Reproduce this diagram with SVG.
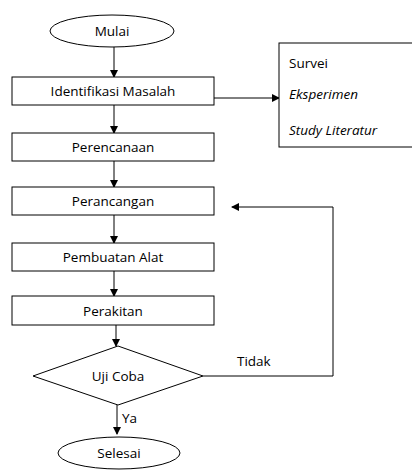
<svg xmlns="http://www.w3.org/2000/svg" width="412" height="472" viewBox="0 0 412 472">
<style>
.s{fill:#fff;stroke:#000;stroke-width:1}
.t{font-family:"Open Sans","Liberation Sans",sans-serif;font-size:13.5px;fill:#000}
.c{text-anchor:middle}
.i{font-style:italic}
.l{fill:none;stroke:#000;stroke-width:1}
</style>
<defs>
<marker id="a" markerWidth="8" markerHeight="8" refX="7" refY="4" orient="auto" markerUnits="userSpaceOnUse">
<path d="M0,0 L8,4 L0,8 Z" fill="#000"/>
</marker>
</defs>
<rect width="412" height="472" fill="#fff"/>
<g id="connectors">
<line class="l" x1="114" y1="47" x2="114" y2="77" marker-end="url(#a)"/>
<line class="l" x1="114" y1="105" x2="114" y2="133" marker-end="url(#a)"/>
<line class="l" x1="114" y1="161" x2="114" y2="187" marker-end="url(#a)"/>
<line class="l" x1="114" y1="215" x2="114" y2="243" marker-end="url(#a)"/>
<line class="l" x1="114" y1="271" x2="114" y2="296" marker-end="url(#a)"/>
<line class="l" x1="116" y1="325" x2="116" y2="346" marker-end="url(#a)"/>
<line class="l" x1="117" y1="405" x2="117" y2="434" marker-end="url(#a)"/>
<line class="l" x1="214" y1="98" x2="279" y2="98" marker-end="url(#a)"/>
<polyline class="l" points="203,376 333,376 333,207 232,207" marker-end="url(#a)"/>
<text class="t" x="237" y="366">Tidak</text>
<text class="t" x="122" y="423">Ya</text>
</g>
<g id="mulai"><ellipse class="s" cx="112" cy="31" rx="62" ry="16"/><text class="t c" x="112" y="36">Mulai</text></g>
<g id="identifikasi"><rect class="s" x="12" y="77" width="202" height="28"/><text class="t c" x="113" y="96">Identifikasi Masalah</text></g>
<g id="metode"><rect class="s" x="279" y="43" width="140" height="104"/>
<text class="t" x="289" y="68">Survei</text>
<text class="t i" x="289" y="99">Eksperimen</text>
<text class="t i" x="289" y="135">Study Literatur</text></g>
<g id="perencanaan"><rect class="s" x="12" y="133" width="202" height="28"/><text class="t c" x="113" y="152">Perencanaan</text></g>
<g id="perancangan"><rect class="s" x="12" y="187" width="202" height="28"/><text class="t c" x="113" y="206">Perancangan</text></g>
<g id="pembuatan"><rect class="s" x="12" y="243" width="202" height="28"/><text class="t c" x="113" y="262">Pembuatan Alat</text></g>
<g id="perakitan"><rect class="s" x="12" y="296" width="202" height="29"/><text class="t c" x="113" y="316">Perakitan</text></g>
<g id="ujicoba"><polygon class="s" points="118,346 203,376 118,405 33,376"/><text class="t c" x="118" y="381">Uji Coba</text></g>
<g id="selesai"><ellipse class="s" cx="119" cy="453" rx="61" ry="16"/><text class="t c" x="119" y="458">Selesai</text></g>
</svg>
